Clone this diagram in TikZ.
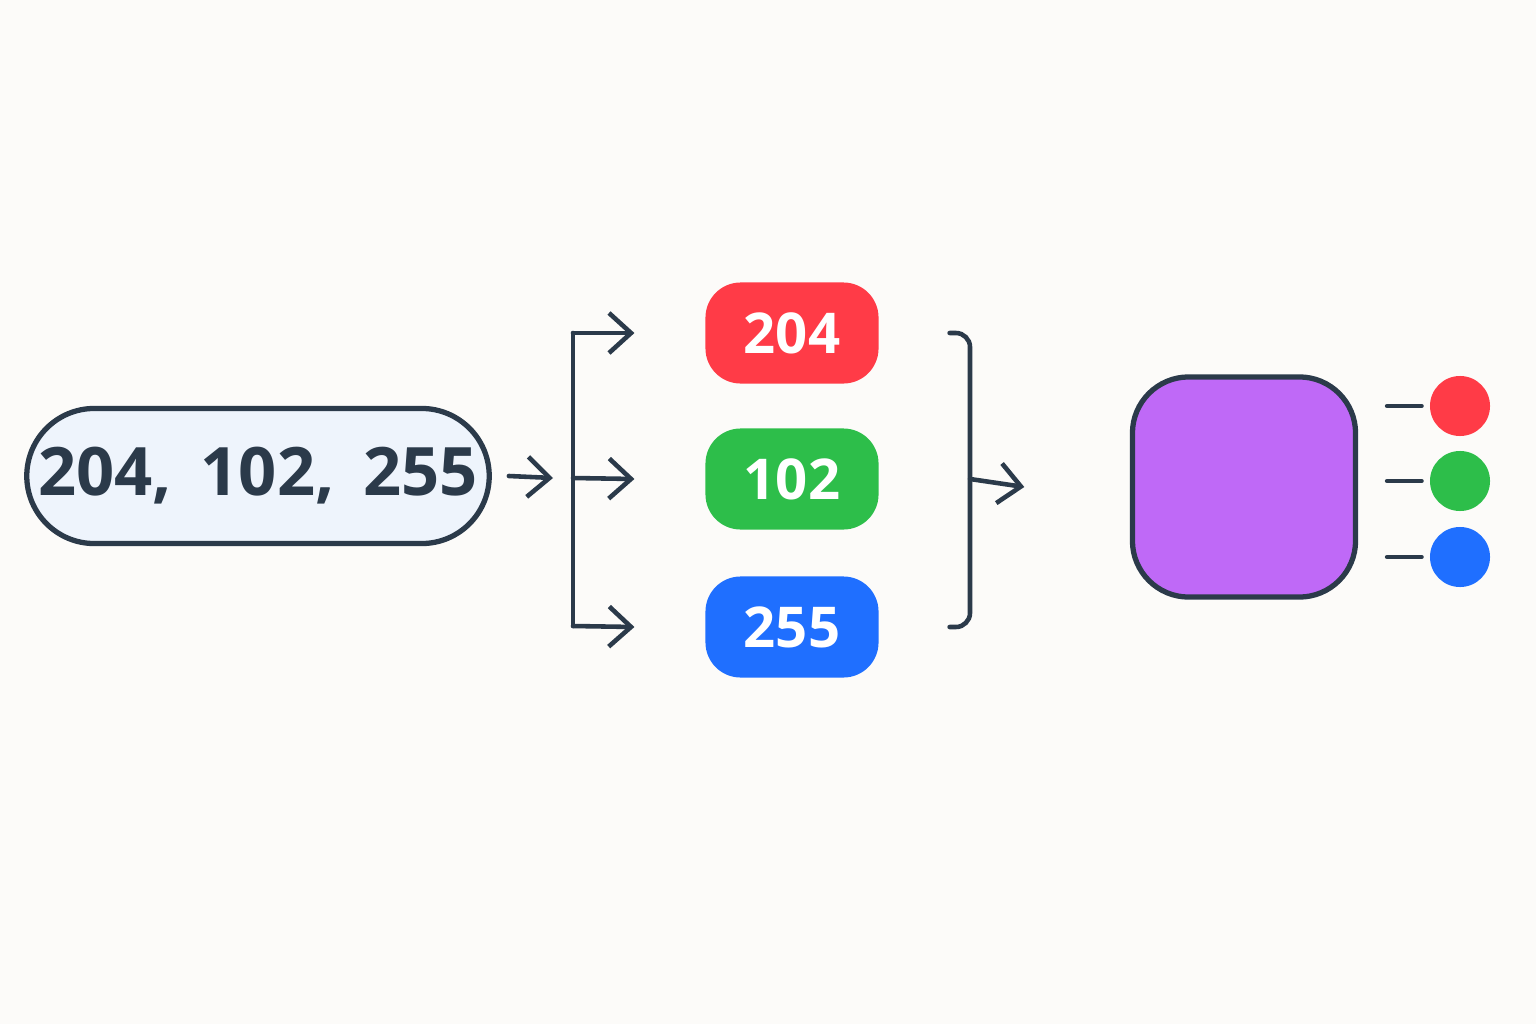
\documentclass[tikz,border=0pt]{standalone}
\usepackage{fontspec}
\setmainfont{Open Sans}
\usetikzlibrary{arrows.meta, positioning}
\definecolor{inkblue}{HTML}{2B3A4A}
\definecolor{pillfill}{HTML}{EEF4FC}
\definecolor{chanred}{HTML}{FF3B47}
\definecolor{changreen}{HTML}{2DBE4A}
\definecolor{chanblue}{HTML}{1F6FFF}
\definecolor{mixpurple}{HTML}{BF69F7}
\definecolor{paper}{HTML}{FCFBF9}
\tikzset{
  wire/.style={draw=inkblue, line width=1.3pt, line cap=round, rounded corners=4pt},
  arr/.style={wire, -{Straight Barb[length=2.2mm, width=4mm]}},
  chan/.style={rounded corners=10pt, minimum width=1.73cm, minimum height=1.01cm, text=white, font=\fontsize{16}{18}\selectfont\bfseries},
  dot/.style={circle, minimum size=0.6cm, inner sep=0pt}
}
\begin{document}
\begin{tikzpicture}[x=0.01cm, y=-0.01cm]
  \fill[paper] (0,0) rectangle (1536,1024);
  \useasboundingbox (0,0) rectangle (1536,1024);

  \node[draw=inkblue, line width=1.5pt, fill=pillfill, rounded corners=0.675cm, minimum width=4.25cm, minimum height=1.35cm, text=inkblue, font=\fontsize{19}{22}\selectfont\bfseries] (rgb) at (258,476) {204,\, 102,\, 255};

  \coordinate (split) at (553,478);
  \draw[arr] (rgb.east) ++(17,0) coordinate (rgbout) -- (split);

  \node[chan, fill=chanred] (red) at (792,333) {204};
  \node[chan, fill=changreen] (green) at (792,479) {102};
  \node[chan, fill=chanblue] (blue) at (792,627) {255};

  % fan out
  \coordinate (bustop) at (573,333);
  \coordinate (busbot) at (573,626);
  \draw[wire] (bustop) -- (busbot);
  \draw[arr] (bustop) -- ([xshift=-20]red.west);
  \draw[arr] (573,478) -- ([xshift=-20]green.west);
  \draw[arr] (busbot) -- ([xshift=-20]blue.west);

  % merge
  \node[draw=inkblue, line width=1.5pt, fill=mixpurple, rounded corners=16pt, minimum width=2.23cm, minimum height=2.2cm] (mix) at (1244,487) {};
  \draw[wire] ([xshift=20]red.east) -| (970,479) |- ([xshift=20]blue.east);
  \draw[arr] (970,479) -- ([xshift=-30]mix.west);

  \node[dot, fill=chanred] (dr) at (1460,406) {};
  \node[dot, fill=changreen] (dg) at (1460,481) {};
  \node[dot, fill=chanblue] (db) at (1460,557) {};
  \foreach \d in {dr,dg,db}
    \draw[wire] ([xshift=18]mix.east |- \d) -- ([xshift=-12]\d.west);
\end{tikzpicture}
\end{document}
